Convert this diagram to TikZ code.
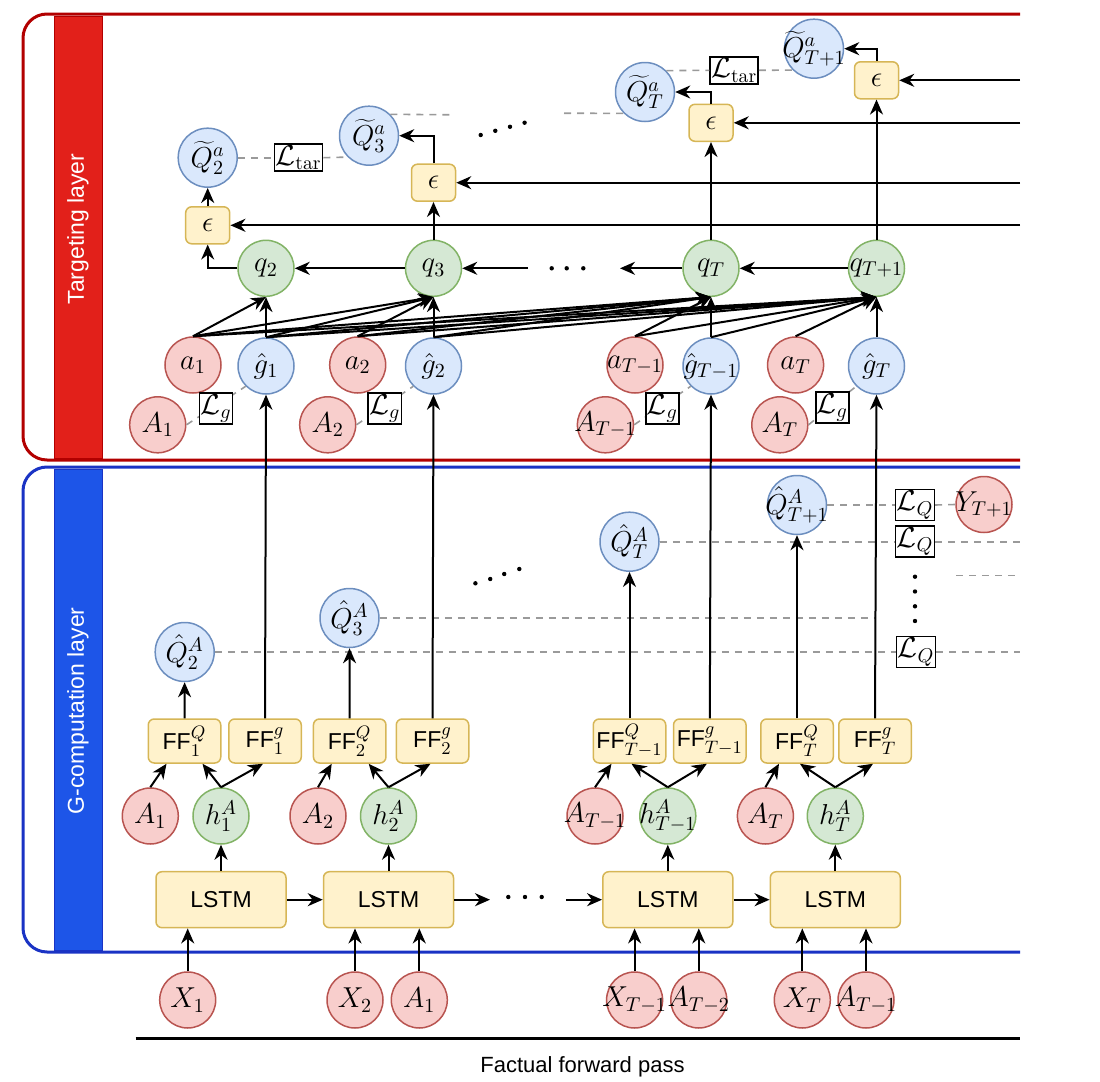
\documentclass[tikz,border=0pt]{standalone}
\usepackage{fontspec}
\setsansfont{Liberation Sans}
\usetikzlibrary{arrows.meta,calc}

\definecolor{rfill}{HTML}{F8CECC}
\definecolor{rline}{HTML}{B85450}
\definecolor{bfill}{HTML}{DAE8FC}
\definecolor{bline}{HTML}{6C8EBF}
\definecolor{gfill}{HTML}{D5E8D4}
\definecolor{gline}{HTML}{82B366}
\definecolor{yfill}{HTML}{FFF2CC}
\definecolor{yline}{HTML}{D6B656}
\definecolor{tgtframe}{HTML}{B20000}
\definecolor{tgtband}{HTML}{E2201A}
\definecolor{gcframe}{HTML}{1A33C4}
\definecolor{gcband}{HTML}{1D55E8}
\definecolor{lossgray}{HTML}{9A9A9A}

\newcommand{\zw}[1]{\makebox[0pt]{#1}}
\newcommand{\FFt}{{\fontsize{11.5}{13}\selectfont\sffamily FF}}

\begin{document}
\begin{tikzpicture}[x=0.5pt,y=-0.5pt,
  every node/.style={font=\fontsize{14}{16}\selectfont},
  circ/.style={circle, line width=0.75pt, minimum size=28pt, inner sep=0pt},
  rc/.style={circ, draw=rline, fill=rfill},
  bc/.style={circ, draw=bline, fill=bfill},
  gc/.style={circ, draw=gline, fill=gfill},
  bq/.style={bc, minimum size=29.5pt},
  ybox/.style={draw=yline, fill=yfill, rounded corners=3pt, line width=0.75pt, inner sep=0pt},
  epsbox/.style={ybox, minimum width=22pt, minimum height=18.5pt},
  ffbox/.style={ybox, minimum width=36.25pt, minimum height=22pt, font=\fontsize{13}{15}\selectfont},
  lstmbox/.style={ybox, minimum width=65pt, minimum height=28pt, font=\fontsize{11.5}{13}\selectfont\sffamily},
  lossbox/.style={draw=black, fill=white, line width=0.8pt, inner sep=0.5pt},
  tarbox/.style={lossbox, minimum width=21.5pt, minimum height=13.5pt},
  gbox/.style={lossbox, minimum width=13.5pt, minimum height=15.5pt},
  qbox/.style={lossbox, minimum width=17.5pt, minimum height=15.5pt},
  arr/.style={-{Stealth[length=7.5pt,width=6.5pt,inset=2.4pt]}, line width=1pt},
  lossdash/.style={draw=lossgray, dash pattern=on 3.5pt off 3pt, line width=0.8pt},
  layertext/.style={rotate=90, text=white, font=\fontsize{11.5}{13}\selectfont\sffamily}
]
\useasboundingbox (0,0) rectangle (1100,1082);

% ---------- layer frames ----------
\draw[line width=1.5pt, draw=tgtframe, rounded corners=12pt] (1020,14) -- (23,14) -- (23,460) -- (1020,460);
\filldraw[fill=tgtband, draw=tgtframe, line width=0.5pt] (54,16.5) rectangle (102,458);
\node[layertext] (tlab) at (78,229) {Targeting layer};

\draw[line width=1.5pt, draw=gcframe, rounded corners=12pt] (1020,467) -- (23,467) -- (23,952) -- (1020,952);
\filldraw[fill=gcband, draw=gcframe, line width=0.5pt] (54,469.5) rectangle (102,950);
\node[layertext] (glab) at (78,711) {G-computation layer};

% ---------- targeting layer nodes ----------
\node[bq] (Qt2)  at (207.7,157.7) {\zw{$\widetilde{Q}^{a}_{2}$}};
\node[bq] (Qt3)  at (369,135.7)   {\zw{$\widetilde{Q}^{a}_{3}$}};
\node[bq] (QtT)  at (645,92)      {\zw{$\widetilde{Q}^{a}_{T}$}};
\node[bq] (QtT1) at (814,48.7)    {\zw{$\widetilde{Q}^{a}_{T+1}$}};

\node[epsbox] (e1)  at (207.7,225.3) {$\epsilon$};
\node[epsbox] (e2)  at (433.5,182.7) {$\epsilon$};
\node[epsbox] (eT)  at (711,122.8)   {$\epsilon$};
\node[epsbox] (eT1) at (876.5,80.3)  {$\epsilon$};

\node[tarbox] (Ltar1) at (298.6,157.7) {$\mathcal{L}_{\mathrm{tar}}$};
\node[tarbox] (Ltar2) at (734.2,70.3)  {$\mathcal{L}_{\mathrm{tar}}$};

\node[gc] (q2)  at (266,268.3)   {\zw{$q_{2}$}};
\node[gc] (q3)  at (433.5,268.3) {\zw{$q_{3}$}};
\node[gc] (qT)  at (711,268.3)   {\zw{$q_{T}$}};
\node[gc] (qT1) at (876.5,268.3) {\zw{$q_{T+1}$}};

\node[rc] (a1)  at (193,365)   {\zw{$a_{1}$}};
\node[bc] (g1)  at (266,366)   {\zw{$\hat{g}_{1}$}};
\node[rc] (a2)  at (357.7,365) {\zw{$a_{2}$}};
\node[bc] (g2)  at (433.5,366) {\zw{$\hat{g}_{2}$}};
\node[rc] (aT1) at (635,365)   {\zw{$a_{T-1}$}};
\node[bc] (gT1) at (711,366)   {\zw{$\hat{g}_{T-1}$}};
\node[rc] (aT)  at (795.6,365) {\zw{$a_{T}$}};
\node[bc] (gT)  at (876.5,366) {\zw{$\hat{g}_{T}$}};

\node[rc] (A1t)  at (157.7,424.8) {\zw{$A_{1}$}};
\node[rc] (A2t)  at (327.7,424.8) {\zw{$A_{2}$}};
\node[rc] (AT1t) at (605.4,424.8) {\zw{$A_{T-1}$}};
\node[rc] (ATt)  at (779.8,424.8) {\zw{$A_{T}$}};

% ---------- G-computation layer nodes ----------
\node[bq] (Qh2)  at (184.7,652)   {\zw{$\hat{Q}^{A}_{2}$}};
\node[bq] (Qh3)  at (349.5,618)   {\zw{$\hat{Q}^{A}_{3}$}};
\node[bq] (QhT)  at (629.5,541.7) {\zw{$\hat{Q}^{A}_{T}$}};
\node[bq] (QhT1) at (797,505)     {\zw{$\hat{Q}^{A}_{T+1}$}};
\node[rc] (Y)    at (984,504.5)   {\zw{$Y_{T+1}$}};

\node[qbox] (LQ1) at (915,505)   {$\mathcal{L}_{Q}$};
\node[qbox] (LQ2) at (915,541.7) {$\mathcal{L}_{Q}$};
\node[qbox] (LQ3) at (916,652)   {$\mathcal{L}_{Q}$};

\node[ffbox] (FFQ1)  at (184.5,741) {\FFt$^{Q}_{1}$};
\node[ffbox] (FFg1)  at (265,741)   {\FFt$^{g}_{1}$};
\node[ffbox] (FFQ2)  at (349.7,741) {\FFt$^{Q}_{2}$};
\node[ffbox] (FFg2)  at (432.5,741) {\FFt$^{g}_{2}$};
\node[ffbox] (FFQT1) at (629.5,741) {\FFt$^{Q}_{T-1}$};
\node[ffbox] (FFgT1) at (709.8,741) {\FFt$^{g}_{T-1}$};
\node[ffbox] (FFQT)  at (797,741)   {\FFt$^{Q}_{T}$};
\node[ffbox] (FFgT)  at (875,741)   {\FFt$^{g}_{T}$};

\node[rc] (A1g)  at (150.3,816) {\zw{$A_{1}$}};
\node[gc] (h1)   at (221,816)   {\zw{$h^{A}_{1}$}};
\node[rc] (A2g)  at (318,816)   {\zw{$A_{2}$}};
\node[gc] (h2)   at (388.5,816) {\zw{$h^{A}_{2}$}};
\node[rc] (AT1g) at (595,816)   {\zw{$A_{T-1}$}};
\node[gc] (hT1)  at (667.8,816) {\zw{$h^{A}_{T-1}$}};
\node[rc] (ATg)  at (765.4,816) {\zw{$A_{T}$}};
\node[gc] (hT)   at (835.3,816) {\zw{$h^{A}_{T}$}};

\node[lstmbox] (L1) at (221,899.7)   {LSTM};
\node[lstmbox] (L2) at (388.5,899.7) {LSTM};
\node[lstmbox] (L3) at (667.8,899.7) {LSTM};
\node[lstmbox] (L4) at (835.3,899.7) {LSTM};

\node[rc] (X1)   at (187.7,1000) {\zw{$X_{1}$}};
\node[rc] (X2)   at (355,1000)   {\zw{$X_{2}$}};
\node[rc] (A1b)  at (419.3,1000) {\zw{$A_{1}$}};
\node[rc] (XT1)  at (634.6,1000) {\zw{$X_{T-1}$}};
\node[rc] (AT2b) at (698.8,1000) {\zw{$A_{T-2}$}};
\node[rc] (XT)   at (802.3,1000) {\zw{$X_{T}$}};
\node[rc] (AT1b) at (866,1000)   {\zw{$A_{T-1}$}};

% ---------- free ends ----------
\coordinate (qin)  at (528,268.3);
\coordinate (qout) at (620,268.3);
\coordinate (r1) at (1020,225.3);
\coordinate (r2) at (1020,182.7);
\coordinate (r3) at (1020,122.8);
\coordinate (r4) at (1020,80.3);
\coordinate (d3)  at (453,114.8);
\coordinate (dT)  at (564,113.2);
\coordinate (rQ2) at (1020,541.7);
\coordinate (rQ3) at (1020,652);
\coordinate (e3)  at (876,618);
\coordinate (s1)  at (956,575.3);
\coordinate (s2)  at (1020,575.3);
\coordinate (lout) at (490,899.7);
\coordinate (lin)  at (565.8,899.7);
\coordinate (fl) at (135.7,1038.3);
\coordinate (fr) at (1020,1038.3);

% ---------- loss (dashed) links ----------
\draw[lossdash] (Qt2.east) -- (Ltar1.west);
\draw[lossdash] (Ltar1.east) -- (Qt3.south west);
\draw[lossdash] (Qt3.north east) -- (d3);
\draw[lossdash] (dT) -- (QtT.south west);
\draw[lossdash] (QtT.north east) -- (Ltar2.west);
\draw[lossdash] (Ltar2.east) -- (QtT1.south west);

\draw[lossdash] (A1t.east) -- (g1.south west);
\draw[lossdash] (A2t.east) -- (g2.south west);
\draw[lossdash] (AT1t.east) -- (gT1.south west);
\draw[lossdash] (ATt.east) -- (gT.south west);
\node[gbox] (Lg1) at ($(A1t.east)!0.5!(g1.south west)+(0,3)$) {$\mathcal{L}_{g}$};
\node[gbox] (Lg2) at ($(A2t.east)!0.5!(g2.south west)+(0,3)$) {$\mathcal{L}_{g}$};
\node[gbox] (Lg3) at ($(AT1t.east)!0.5!(gT1.south west)+(0,3)$) {$\mathcal{L}_{g}$};
\node[gbox] (Lg4) at ($(ATt.east)!0.5!(gT.south west)+(0,2)$) {$\mathcal{L}_{g}$};

\draw[lossdash] (QhT1.east) -- (LQ1.west);
\draw[lossdash] (LQ1.east) -- (Y.west);
\draw[lossdash] (QhT.east) -- (LQ2.west);
\draw[lossdash] (LQ2.east) -- (rQ2);
\draw[lossdash] (Qh3.east) -- (e3);
\draw[lossdash] (Qh2.east) -- (LQ3.west);
\draw[lossdash] (LQ3.east) -- (rQ3);
\draw[lossdash] (s1) -- (s2);

% ---------- ellipsis dots ----------
\foreach \p in {(480.7,135),(495.3,130.8),(510,126.8),(524.6,122.7),
                (475.4,583.3),(490.2,579),(504.2,574),(519.3,569),
                (915,576.7),(915,591.5),(915,606.3),(915,621),
                (551.7,268.3),(566.7,268.3),(583.3,268.3),
                (508.3,897),(525,897),(541.7,897)}
  \fill \p circle (1.1pt);

% ---------- targeting layer connectors ----------
\draw[arr] (q3) -- (q2);
\draw[arr] (qin) -- (q3);
\draw[arr] (qT) -- (qout);
\draw[arr] (qT1) -- (qT);
\draw[arr] (q2.west) -| (e1.south);
\draw[arr] (q3) -- (e2);
\draw[arr] (qT) -- (eT);
\draw[arr] (qT1) -- (eT1);
\draw[arr] (e1) -- (Qt2);
\draw[arr] (e2.north) |- (Qt3.east);
\draw[arr] (eT.north) |- (QtT.east);
\draw[arr] (eT1.north) |- (QtT1.east);
\draw[arr] (r1) -- (e1.east);
\draw[arr] (r2) -- (e2.east);
\draw[arr] (r3) -- (eT.east);
\draw[arr] (r4) -- (eT1.east);

\foreach \s in {a1,g1} \draw[arr] (\s.north) -- (q2.south);
\foreach \s in {a1,g1,a2,g2} \draw[arr] (\s.north) -- (q3.south);
\foreach \s in {a1,g1,a2,g2,aT1,gT1} \draw[arr] (\s.north) -- (qT.south);
\foreach \s in {a1,g1,a2,g2,aT1,gT1,aT,gT} \draw[arr] (\s.north) -- (qT1.south);

% ---------- G-computation connectors ----------
\draw[arr] (FFQ1) -- (Qh2);
\draw[arr] (FFQ2) -- (Qh3);
\draw[arr] (FFQT1) -- (QhT);
\draw[arr] (FFQT) -- (QhT1);
\draw[arr] (FFg1.north) -- (g1.south);
\draw[arr] (FFg2.north) -- (g2.south);
\draw[arr] (FFgT1.north) -- (gT1.south);
\draw[arr] (FFgT.north) -- (gT.south);

\draw[arr] (A1g.north) -- ($(FFQ1.south)+(-18,0)$);
\draw[arr] (h1.north) -- ($(FFQ1.south)+(18,0)$);
\draw[arr] (h1.north) -- ($(FFg1.south)+(-2,0)$);
\draw[arr] (A2g.north) -- ($(FFQ2.south)+(-18,0)$);
\draw[arr] (h2.north) -- ($(FFQ2.south)+(19,0)$);
\draw[arr] (h2.north) -- ($(FFg2.south)+(-2,0)$);
\draw[arr] (AT1g.north) -- ($(FFQT1.south)+(-18,0)$);
\draw[arr] (hT1.north) -- ($(FFQT1.south)+(2,0)$);
\draw[arr] (hT1.north) -- ($(FFgT1.south)+(-3,0)$);
\draw[arr] (ATg.north) -- ($(FFQT.south)+(-18,0)$);
\draw[arr] (hT.north) -- ($(FFQT.south)+(3,0)$);
\draw[arr] (hT.north) -- ($(FFgT.south)+(-2,0)$);

\draw[arr] (L1) -- (h1);
\draw[arr] (L2) -- (h2);
\draw[arr] (L3) -- (hT1);
\draw[arr] (L4) -- (hT);
\draw[arr] (L1) -- (L2);
\draw[arr] (L2) -- (lout);
\draw[arr] (lin) -- (L3);
\draw[arr] (L3) -- (L4);

\draw[arr] (X1.north) -- (X1.north |- L1.south);
\draw[arr] (X2.north) -- (X2.north |- L2.south);
\draw[arr] (A1b.north) -- (A1b.north |- L2.south);
\draw[arr] (XT1.north) -- (XT1.north |- L3.south);
\draw[arr] (AT2b.north) -- (AT2b.north |- L3.south);
\draw[arr] (XT.north) -- (XT.north |- L4.south);
\draw[arr] (AT1b.north) -- (AT1b.north |- L4.south);

% ---------- factual pass ----------
\draw[line width=1.5pt] (fl) -- (fr);
\node[font=\fontsize{11}{13}\selectfont\sffamily] (fwd) at (582.5,1066.7) {Factual forward pass};
\end{tikzpicture}
\end{document}
